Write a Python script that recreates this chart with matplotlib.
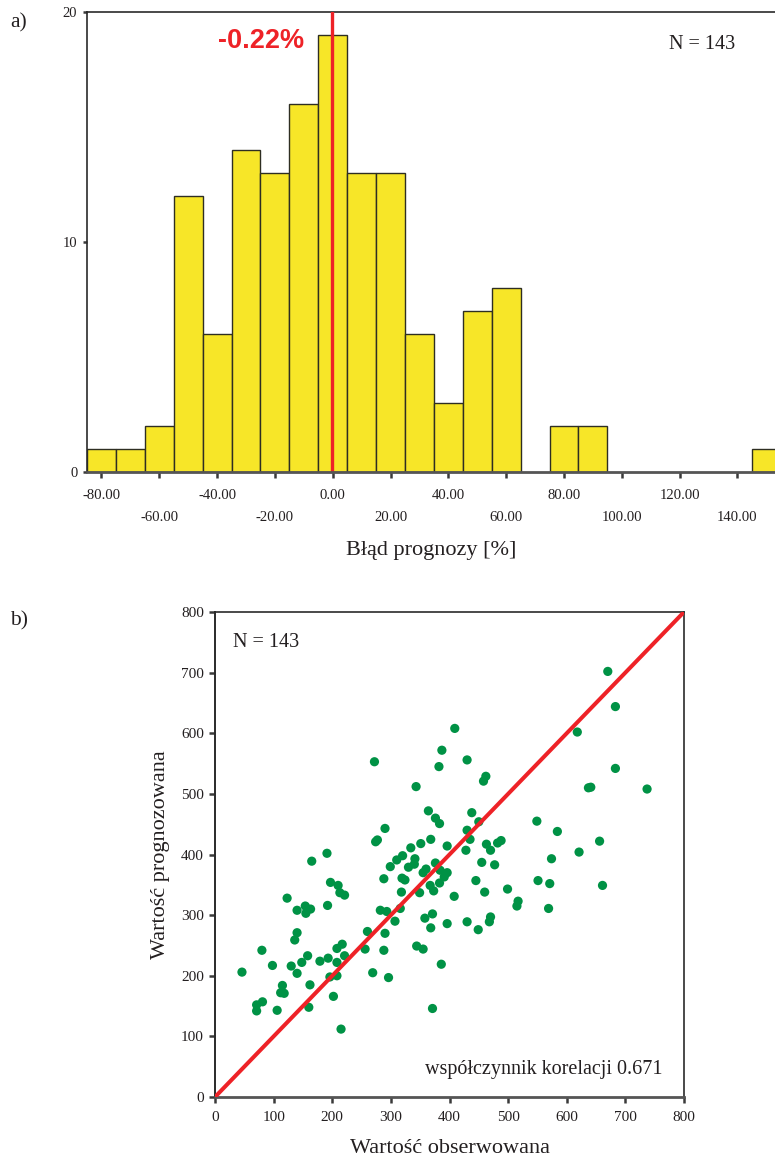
import matplotlib
matplotlib.use("Agg")
import matplotlib.pyplot as plt
from matplotlib.ticker import FixedLocator
import numpy as np

# ---------------- data ----------------
# histogram a): bin centres (width 10 %) and counts
bin_centers = [-80, -70, -60, -50, -40, -30, -20, -10, 0, 10, 20, 30, 40, 50, 60,
               70, 80, 90, 100, 110, 120, 130, 140, 150]
bin_counts = [1, 1, 2, 12, 6, 14, 13, 16, 19, 13, 13, 6, 3, 7, 8,
              0, 2, 2, 0, 0, 0, 0, 0, 1]
mean_error = -0.22
hist_major_ticks = [-80, -40, 0, 40, 80, 120]
hist_minor_ticks = [-60, -20, 20, 60, 100, 140]
hist_yticks = [0, 10, 20]

# scatter b): observed vs predicted
observed = [272, 290, 274, 277, 191, 165, 299, 310, 288, 197, 210, 213, 221, 123, 192,
            140, 154, 163, 155, 282, 293, 307, 260, 290, 140, 136, 80, 217, 208, 256,
            288, 158, 179, 193, 221, 208, 148, 98, 130, 46, 140, 269, 296, 196, 208,
            162, 115, 118, 112, 202, 81, 71, 71, 106, 160, 215, 409, 387, 430, 382,
            462, 458, 343, 364, 438, 376, 383, 450, 549, 430, 368, 435, 351, 396, 334,
            463, 470, 482, 488, 428, 320, 341, 340, 330, 376, 455, 477, 360, 355, 384,
            396, 391, 383, 367, 373, 319, 324, 445, 318, 349, 408, 460, 499, 517, 515,
            551, 316, 371, 358, 368, 396, 430, 449, 470, 468, 344, 355, 386, 371, 670,
            683, 618, 683, 637, 641, 737, 584, 656, 621, 574, 571, 661, 569]
predicted = [553, 443, 421, 424, 402, 389, 380, 391, 360, 354, 349, 337, 333, 328, 316,
             308, 315, 310, 303, 308, 306, 290, 273, 270, 271, 259, 242, 252, 245, 244,
             242, 233, 224, 229, 233, 222, 222, 217, 216, 206, 204, 205, 197, 198, 200,
             185, 184, 171, 172, 166, 157, 152, 142, 143, 148, 112, 608, 572, 556, 545,
             529, 521, 512, 472, 469, 460, 451, 454, 455, 440, 425, 425, 418, 414, 411,
             417, 407, 419, 423, 407, 398, 393, 384, 379, 386, 387, 383, 376, 370, 374,
             370, 363, 353, 349, 340, 361, 358, 357, 338, 337, 331, 338, 343, 323, 315,
             357, 311, 302, 295, 279, 286, 289, 276, 297, 289, 249, 244, 219, 146, 702,
             644, 602, 542, 510, 511, 508, 438, 422, 404, 393, 352, 349, 311]
scatter_ticks = [0, 100, 200, 300, 400, 500, 600, 700, 800]

# ---------------- style ----------------
SERIF = ["Liberation Serif", "DejaVu Serif"]
TXT = "#231f20"
TICKC = "#3a3a3a"
YELLOW = "#f7e628"
RED = "#ee2227"
GREEN = "#009245"

plt.rcParams["font.family"] = SERIF
plt.rcParams["text.color"] = TXT

W, H = 775, 1160
fig = plt.figure(figsize=(W / 100, H / 100), dpi=100)

# ---------------- a) histogram ----------------
ax1 = fig.add_axes([87 / W, (H - 472) / H, (W - 87) / W, (472 - 12) / H])
c = np.array(bin_centers, dtype=float)
h = np.array(bin_counts, dtype=float)
m = h > 0
ax1.bar(c[m], h[m], width=10, align="center", color=YELLOW,
        edgecolor="#2e2e22", linewidth=1.0, zorder=2)
ax1.axvline(mean_error, color=RED, lw=2.4, zorder=3)
ax1.set_xlim(-85, 153)
ax1.set_ylim(0, 20)

for s in ("top", "left"):
    ax1.spines[s].set_color("#2a2a2a")
    ax1.spines[s].set_linewidth(1.2)
ax1.spines["right"].set_visible(False)
ax1.spines["bottom"].set_color("#555555")
ax1.spines["bottom"].set_linewidth(2.0)
ax1.spines["bottom"].set_zorder(4)

ax1.xaxis.set_major_locator(FixedLocator(hist_major_ticks))
ax1.xaxis.set_minor_locator(FixedLocator(hist_minor_ticks))
ax1.set_xticklabels([f"{v:.2f}" for v in hist_major_ticks])
ax1.set_xticklabels([f"{v:.2f}" for v in hist_minor_ticks], minor=True)
ax1.tick_params(axis="x", which="major", direction="out", length=4, width=1.8,
                color=TICKC, labelsize=10.6, labelcolor=TXT, pad=8)
ax1.tick_params(axis="x", which="minor", direction="out", length=4, width=1.8,
                color=TICKC, labelsize=10.6, labelcolor=TXT, pad=24)
ax1.set_yticks(hist_yticks)
ax1.set_yticklabels([str(v) for v in hist_yticks])
ax1.tick_params(axis="y", direction="out", length=3, width=1.8, color=TICKC,
                labelsize=10.5, labelcolor=TXT, pad=4)
ax1.set_xlabel("Błąd prognozy [%]", fontsize=16, labelpad=12, color=TXT)

ax1.text(-9.8, 18.75, "-0.22%", color=RED, fontsize=19.5, fontweight="bold",
         family=["Liberation Sans", "DejaVu Sans"], ha="right", va="center")
ax1.text(116.5, 18.6, "N = 143", fontsize=14.5, ha="left", va="center", color=TXT)

fig.text(10 / W, 1 - 23 / H, "a)", fontsize=15.5, ha="left", va="center", color=TXT)

# ---------------- b) scatter ----------------
ax2 = fig.add_axes([215 / W, (H - 1097) / H, 469 / W, 485 / H])
ax2.scatter(observed, predicted, s=44, color=GREEN, edgecolors="none", zorder=2)
ax2.plot([0, 800], [0, 800], color=RED, lw=2.9, zorder=3, solid_capstyle="butt")
ax2.set_xlim(0, 800)
ax2.set_ylim(0, 800)
ax2.set_xticks(scatter_ticks)
ax2.set_yticks(scatter_ticks)
for s in ("top", "right"):
    ax2.spines[s].set_color("#2a2a2a")
    ax2.spines[s].set_linewidth(1.2)
ax2.spines["left"].set_color("#2a2a2a")
ax2.spines["left"].set_linewidth(1.4)
ax2.spines["bottom"].set_color("#555555")
ax2.spines["bottom"].set_linewidth(2.0)
ax2.tick_params(axis="both", direction="out", length=4, width=1.8, color=TICKC,
                labelsize=11, labelcolor=TXT)
ax2.tick_params(axis="y", pad=4)
ax2.tick_params(axis="x", pad=6)
ax2.set_xlabel("Wartość obserwowana", fontsize=16, labelpad=11, color=TXT)
ax2.set_ylabel("Wartość prognozowana", fontsize=16, labelpad=8, color=TXT)

ax2.text(31, 750, "N = 143", fontsize=14.5, ha="left", va="center", color=TXT)
ax2.text(764, 46, "współczynnik korelacji 0.671", fontsize=14.5, ha="right",
         va="center", color=TXT)

fig.text(10 / W, 1 - 621 / H, "b)", fontsize=15.5, ha="left", va="center", color=TXT)

fig.savefig("out.png", dpi=100)
